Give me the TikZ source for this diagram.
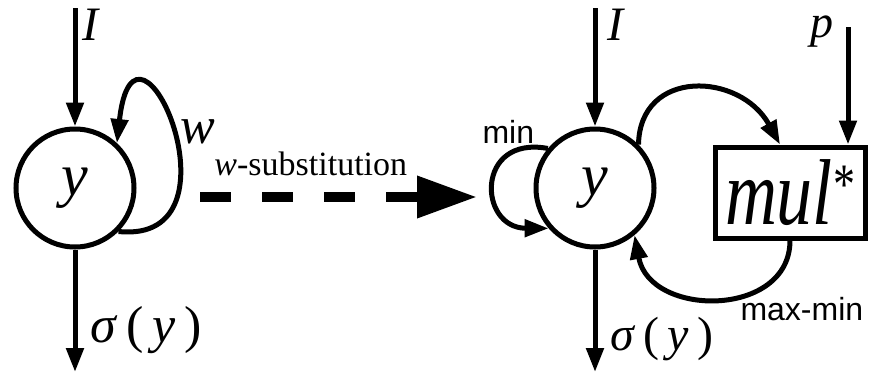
\documentclass[tikz,border=0pt]{standalone}
\usepackage{graphicx}
\usepackage{fontspec}
\setmainfont{Liberation Serif}
\setsansfont{Liberation Sans}
\usetikzlibrary{positioning,arrows.meta}

\begin{document}
\begin{tikzpicture}[x=1pt, y=-1pt, line width=5pt, >={Triangle[length=24pt,width=17pt]},
  state/.style={circle,draw,minimum size=118pt,inner sep=0pt,font=\fontsize{60}{60}\selectfont\itshape},
  lbl/.style={inner sep=0pt,anchor=base west,font=\fontsize{52}{52}\selectfont},
  tag/.style={inner sep=0pt,anchor=base west,font=\fontsize{32}{32}\selectfont\sffamily}]
\useasboundingbox (0,0) rectangle (873,373);

% network before the substitution
\node (y1) [state] at (75,188) {y};
\coordinate (in1) at (75,8);
\coordinate (out1) at (75,372);
\draw[->] (in1) -- (y1);
\draw[->] (y1) -- (out1);
\draw[->] (y1.-45) .. controls (250,245) and (135,-20) .. (y1.47);
\node (lI1) [lbl, font=\fontsize{48}{48}\selectfont] at (80,40) {\textit{I}};
\node (lw) [lbl] at (178,143) {\textit{w}};
\node (ls1) [lbl] at (88,342) {\textit{σ}\,(\,\textit{y}\,)};

% the substitution
\coordinate (d1) at (200,197);
\coordinate (d2) at (477,197);
\draw[line width=10pt, dash pattern=on 31pt off 31pt, -{Triangle[length=60pt,width=40pt]}]
  (d1) -- node (lsub) [above=16pt, inner sep=0pt, pos=0.4, font=\fontsize{34}{34}\selectfont]
  {\textit{w}-substitution} (d2);

% network after the substitution
\node (y2) [state] at (595,188) {y};
\node (m) [draw, minimum width=150pt, minimum height=91pt, inner sep=0pt] at (790,192.5)
  {\scalebox{1}[1.3]{\fontsize{72}{72}\selectfont\textit{mul}\raisebox{16pt}{\fontsize{44}{44}\selectfont *}}};
\coordinate (in2) at (595,8);
\coordinate (out2) at (595,372);
\coordinate (pin) at (848,27);
\draw[->] (in2) -- (y2);
\draw[->] (y2) -- (out2);
\draw[->] (pin) -- (pin |- m.north);
\draw[->] (y2.140) .. controls (475,135) and (478,228) .. (y2.-139);
\draw[->] (y2.45) .. controls (640,68) and (740,72) .. ([xshift=-10pt]m.north);
\draw[->] (m.south) .. controls (790,318) and (650,318) .. (y2.-50);
\node (lI2) [lbl, font=\fontsize{48}{48}\selectfont] at (605,40) {\textit{I}};
\node (lp) [lbl, font=\fontsize{46}{46}\selectfont] at (808,37) {\textit{p}};
\node (ls2) [lbl, font=\fontsize{48}{48}\selectfont] at (608,350) {\textit{σ}\,(\,\textit{y}\,)};
\node (lmin) [tag] at (480,143) {min};
\node (lmm) [tag] at (738,320) {max-min};
\end{tikzpicture}
\end{document}
